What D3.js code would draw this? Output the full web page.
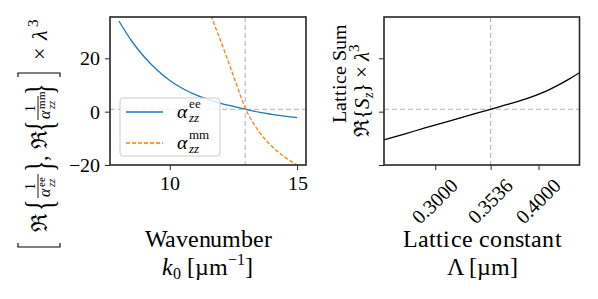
<!DOCTYPE html>
<html>
<head>
<meta charset="utf-8">
<script src="https://cdn.jsdelivr.net/npm/d3@7"></script>
<style>
  @font-face{font-family:"PlotSerif";src:local("Liberation Serif"),local("LiberationSerif"),local("Times New Roman");font-style:normal;}
  @font-face{font-family:"PlotSerif";src:local("Liberation Serif Italic"),local("LiberationSerif-Italic");font-style:italic;}
  html,body{margin:0;padding:0;background:#fff;}
</style>
</head>
<body>
<div id="fig-root"></div>
<script>
// left panel: real part of inverse polarizabilities
const kEE=[8,8.5,9,9.5,10,10.5,11,11.5,12,12.5,13,13.5,14,14.5,15];
const invAlphaEE=[34,26.5,20.5,15.6,11.7,8.7,6.4,4.6,3.1,2.0,0.9,-0.2,-1.0,-1.7,-2.25];
const kMM=[11.3,11.5,11.65,12,12.25,12.5,13,13.5,14,14.5,15];
const invAlphaMM=[44.5,39.5,35.3,26.5,20,13.4,0.6,-7.4,-12.9,-16.9,-20.1];
// right panel: lattice sum
const latticeConst=[0.25,0.27,0.29,0.31,0.33,0.3536,0.37,0.39,0.41,0.43,0.44];
const latticeSum=[-10.6,-8.4,-6.1,-3.9,-1.7,0.9,2.7,5.1,8.2,12.3,14.7];
// reference point
const kRes=12.96, lambdaRes=0.3536, valRes=0.9;
const yTicks=[-20,0,20];
const kTicks=[10,15];
const latticeTicks=[0.3,0.3536,0.4];
const latticeTickLabels=["0.3000","0.3536","0.4000"];

(function(){
  const FONT="PlotSerif, 'Liberation Serif', serif";
  const W=598,H=299;
  const svg=d3.select("#fig-root").append("svg").attr("width",W).attr("height",H)
    .style("font-family",FONT);
  const top=17,bot=165;
  const L={x0:110,x1:306}, R={x0:384,x1:579.5};
  const xL=d3.scaleLinear().domain([7.65,15.35]).range([L.x0,L.x1]);
  const xR=d3.scaleLinear().domain([0.2503,0.4397]).range([R.x0,R.x1]);
  const y=d3.scaleLinear().domain([-20,35.5]).range([bot,top]);
  const grey="#b0b0b0", frame="#262626";

  const defs=svg.append("defs");
  defs.append("clipPath").attr("id","clipL").append("rect")
    .attr("x",L.x0).attr("y",top).attr("width",L.x1-L.x0).attr("height",bot-top);
  defs.append("clipPath").attr("id","clipR").append("rect")
    .attr("x",R.x0).attr("y",top).attr("width",R.x1-R.x0).attr("height",bot-top);

  function txt(g,x,yy,size,s){
    return g.append("text").attr("x",x).attr("y",yy)
      .style("font-family",FONT).style("font-size",size+"px").style("fill","#000").text(s);
  }
  function styleAxis(s,fs){
    s.attr("font-family",null);
    s.select(".domain").remove();
    s.selectAll("line").attr("stroke",frame).attr("stroke-width",1);
    s.selectAll("text").style("font-size",fs+"px").style("fill","#000").style("font-family",FONT);
  }

  // ---- left panel ----
  const gl=svg.append("g");
  gl.append("g").attr("transform",`translate(0,${bot})`)
    .call(d3.axisBottom(xL).tickValues(kTicks).tickSize(5).tickPadding(6).tickFormat(d3.format("d")))
    .call(s=>styleAxis(s,20));
  gl.append("g").attr("transform",`translate(${L.x0},0)`)
    .call(d3.axisLeft(y).tickValues(yTicks).tickSize(5).tickPadding(5).tickFormat(d3.format("d")))
    .call(s=>styleAxis(s,20));

  const pl=gl.append("g").attr("clip-path","url(#clipL)");
  pl.append("line").attr("x1",L.x0).attr("x2",L.x1).attr("y1",y(valRes)).attr("y2",y(valRes))
    .attr("stroke",grey).attr("stroke-width",1).attr("stroke-dasharray","5,3");
  pl.append("line").attr("x1",xL(kRes)).attr("x2",xL(kRes)).attr("y1",top).attr("y2",bot)
    .attr("stroke",grey).attr("stroke-width",1).attr("stroke-dasharray","5,3");
  const lineL=d3.line().x(d=>xL(d[0])).y(d=>y(d[1])).curve(d3.curveMonotoneX);
  pl.append("path").datum(d3.zip(kEE,invAlphaEE)).attr("d",lineL)
    .attr("fill","none").attr("stroke","#1f77b4").attr("stroke-width",1.3);
  pl.append("path").datum(d3.zip(kMM,invAlphaMM)).attr("d",lineL)
    .attr("fill","none").attr("stroke","#ff7f0e").attr("stroke-width",1.3).attr("stroke-dasharray","4,2");

  // legend
  const lg=gl.append("g");
  lg.append("rect").attr("x",120).attr("y",98).attr("width",100).attr("height",58).attr("rx",3)
    .attr("fill","#fff").attr("fill-opacity",0.8).attr("stroke","#cccccc").attr("stroke-width",1);
  const entries=[{c:"#1f77b4",d:null,sup:"ee",yy:112},{c:"#ff7f0e",d:"4,2",sup:"mm",yy:143}];
  entries.forEach(e=>{
    lg.append("line").attr("x1",126).attr("x2",163).attr("y1",e.yy).attr("y2",e.yy)
      .attr("stroke",e.c).attr("stroke-width",1.3).attr("stroke-dasharray",e.d);
    txt(lg,177,e.yy+6,20,"α").style("font-style","italic");
    txt(lg,189,e.yy-4,13,e.sup);
    txt(lg,189,e.yy+10,13,"zz").style("font-style","italic");
  });

  gl.append("rect").attr("x",L.x0).attr("y",top).attr("width",L.x1-L.x0).attr("height",bot-top)
    .attr("fill","none").attr("stroke",frame).attr("stroke-width",1.6);

  // x label left
  txt(gl,208,247,24,"Wavenumber").attr("text-anchor","middle")
    .attr("textLength",127).attr("lengthAdjust","spacing");
  const t2=txt(gl,207,275,24,null).attr("text-anchor","middle");
  t2.append("tspan").style("font-style","italic").text("k");
  t2.append("tspan").style("font-size","16px").attr("dy",4).text("0");
  t2.append("tspan").attr("dy",-4).text(" [µm");
  t2.append("tspan").style("font-size","16px").attr("dy",-10).text("−1");
  t2.append("tspan").attr("dy",10).text("]");

  // y label left (rotated math)
  const yl=svg.append("g").attr("transform","translate(47,248) rotate(-90)");
  const fs=22;
  yl.append("path").attr("d","M5,-29H1V13H5").attr("fill","none").attr("stroke","#000").attr("stroke-width",1.1);
  yl.append("path").attr("d","M171,-29H175V13H171").attr("fill","none").attr("stroke","#000").attr("stroke-width",1.1);
  function brace(x,ch){
    txt(yl,0,0,40,ch).attr("transform",`translate(${x},6) scale(0.6,1)`);
  }
  function frac(x0,x1,sup){
    yl.append("line").attr("x1",x0).attr("x2",x1).attr("y1",-9).attr("y2",-9).attr("stroke","#000").attr("stroke-width",0.9);
    txt(yl,(x0+x1)/2,-12,14,"1").attr("text-anchor","middle");
    txt(yl,x0+1,3,16,"α").style("font-style","italic");
    txt(yl,x0+11,-2,10.5,sup);
    txt(yl,x0+11,8,10.5,"zz").style("font-style","italic");
  }
  txt(yl,16,0,fs,"ℜ");
  brace(37,"{"); frac(50,74,"ee"); brace(76,"}");
  txt(yl,87,0,fs,",");
  txt(yl,99,0,fs,"ℜ");
  brace(116,"{"); frac(128,152,"mm"); brace(153,"}");
  txt(yl,188,0,fs,"×");
  txt(yl,208,0,fs,"λ").style("font-style","italic");
  txt(yl,221,-9,15,"3");

  // ---- right panel ----
  const gr=svg.append("g");
  gr.append("g").attr("transform",`translate(0,${bot})`)
    .call(d3.axisBottom(xR).tickValues(latticeTicks).tickSize(5).tickFormat((d,i)=>latticeTickLabels[i]))
    .call(s=>styleAxis(s,20))
    .call(s=>s.selectAll("text").attr("y",0).attr("dy",null).attr("text-anchor","middle")
      .attr("dominant-baseline","central").attr("transform","translate(-1,36) rotate(-45)"));
  gr.append("g").attr("transform",`translate(${R.x0},0)`)
    .call(d3.axisLeft(y).tickValues(yTicks).tickSize(5).tickFormat(""))
    .call(s=>styleAxis(s,20));

  const pr=gr.append("g").attr("clip-path","url(#clipR)");
  pr.append("line").attr("x1",R.x0).attr("x2",R.x1).attr("y1",y(valRes)).attr("y2",y(valRes))
    .attr("stroke",grey).attr("stroke-width",1).attr("stroke-dasharray","5,3");
  pr.append("line").attr("x1",xR(lambdaRes)).attr("x2",xR(lambdaRes)).attr("y1",top).attr("y2",bot)
    .attr("stroke",grey).attr("stroke-width",1).attr("stroke-dasharray","5,3");
  const lineR=d3.line().x(d=>xR(d[0])).y(d=>y(d[1])).curve(d3.curveMonotoneX);
  pr.append("path").datum(d3.zip(latticeConst,latticeSum)).attr("d",lineR)
    .attr("fill","none").attr("stroke","#000").attr("stroke-width",1.3);

  gr.append("rect").attr("x",R.x0).attr("y",top).attr("width",R.x1-R.x0).attr("height",bot-top)
    .attr("fill","none").attr("stroke",frame).attr("stroke-width",1.6);

  txt(gr,482,247,24,"Lattice constant").attr("text-anchor","middle")
    .attr("textLength",159).attr("lengthAdjust","spacing");
  txt(gr,482,275,24,"Λ [µm]").attr("text-anchor","middle");

  // y label right, two lines
  txt(gr,0,0,20,"Lattice Sum").attr("transform","translate(346,73) rotate(-90)").attr("text-anchor","middle");
  const r2=txt(gr,0,0,21,null).attr("transform","translate(369,90) rotate(-90)").attr("text-anchor","middle");
  r2.append("tspan").text("ℜ{");
  r2.append("tspan").style("font-style","italic").text("S");
  r2.append("tspan").style("font-style","italic").style("font-size","14px").attr("dy",4).text("z");
  r2.append("tspan").attr("dy",-4).text("} × ");
  r2.append("tspan").style("font-style","italic").text("λ");
  r2.append("tspan").style("font-size","15px").attr("dy",-10).text("3");
})();
</script>
</body>
</html>
